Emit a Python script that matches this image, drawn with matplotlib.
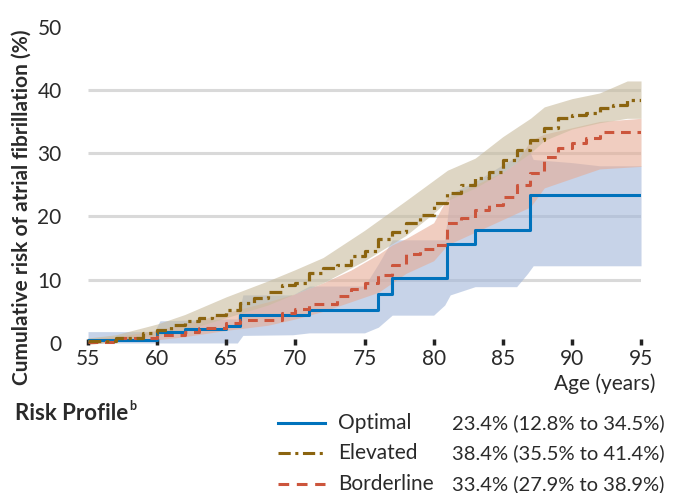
import matplotlib
matplotlib.use("Agg")
import matplotlib.pyplot as plt
from matplotlib.lines import Line2D

plt.rcParams['font.family'] = ['Lato', 'DejaVu Sans']

# step curves (value holds from this age until the next one)
optimal_age = [55, 60, 62, 65, 66, 71, 76, 77, 81, 83, 87, 95]
optimal_risk = [0.4, 1.7, 2.2, 2.7, 4.4, 5.2, 7.8, 10.3, 15.6, 17.9, 23.4, 23.4]

elevated_age = [55, 57, 59, 60, 61, 62, 63, 64, 65, 66, 67, 68, 69, 70, 71, 72, 73, 74,
                75, 76, 77, 78, 79, 80, 81, 82, 83, 84, 85, 86, 87, 88, 89, 90, 91, 92,
                93, 94, 95]
elevated_risk = [0.3, 0.8, 1.6, 2.1, 2.8, 3.4, 3.9, 4.4, 5.2, 6.3, 7.1, 8.1, 9.2, 9.5,
                 11.1, 11.8, 12.3, 13.7, 14.6, 16.4, 17.5, 18.9, 20.2, 22.1, 23.7, 25.0,
                 26.0, 27.0, 28.9, 30.5, 32.1, 33.9, 35.5, 36.0, 36.3, 37.1, 37.6, 38.4,
                 38.4]

borderline_age = [55, 57, 60, 62, 63, 65, 66, 69, 70, 71, 73, 74, 75, 76, 77, 78, 79, 80,
                  81, 82, 83, 84, 85, 86, 87, 88, 89, 90, 91, 92, 95]
borderline_risk = [0.2, 0.8, 1.3, 1.7, 2.3, 3.1, 3.7, 4.7, 5.3, 6.2, 7.4, 8.6, 9.5, 10.7,
                   12.3, 14.1, 14.9, 15.5, 18.9, 19.7, 21.0, 21.8, 23.1, 25.0, 26.8, 29.4,
                   30.8, 31.6, 32.4, 33.4, 33.4]

# confidence bands
optimal_band_age = [55, 59.8, 60.2, 62, 65, 65.8, 66.2, 69.8, 71, 75, 76, 77, 80, 80.8,
                    81.2, 83, 86, 86.8, 87.2, 90, 92, 95]
optimal_upper = [1.8, 1.8, 3.5, 3.6, 3.8, 3.8, 7.6, 7.6, 9.0, 9.0, 12.5, 16.3, 16.3, 16.3,
                 23.6, 25.5, 29.5, 31.0, 29.0, 28.5, 28.0, 28.0]
optimal_lower = [0, 0, 0, 0, 0, 0, 1.2, 1.3, 1.6, 1.6, 2.5, 4.4, 4.4, 6.0, 7.6, 8.9, 8.9,
                 11.0, 12.2, 12.2, 12.2, 12.2]

elevated_band_age = [55, 57, 60, 62, 65, 68, 70, 72, 75, 78, 80, 81, 83, 85, 87, 88, 90,
                     92, 94, 95]
elevated_upper = [0.8, 1.3, 3.0, 4.5, 7.3, 9.8, 11.6, 13.5, 17.8, 22.5, 25.7, 27.3, 29.2,
                  32.6, 35.5, 37.3, 38.6, 39.5, 41.4, 41.4]
elevated_lower = [-0.2, 0.2, 1.2, 2.0, 4.0, 6.0, 7.8, 9.5, 13.0, 17.0, 20.5, 22.5, 24.5,
                  27.0, 30.0, 32.0, 33.8, 34.8, 35.5, 35.5]

borderline_band_age = [55, 57, 60, 62, 65, 68, 70, 72, 74, 76, 77, 78, 80, 81, 83, 85, 86,
                       87, 88, 90, 92, 95]
borderline_upper = [0.6, 1.0, 2.0, 3.0, 4.8, 6.5, 7.8, 9.5, 11.5, 14.0, 15.5, 16.5, 19.0,
                    23.0, 25.0, 27.0, 28.5, 32.0, 33.0, 34.0, 35.0, 35.5]
borderline_lower = [-0.2, 0.2, 0.5, 1.0, 2.0, 2.8, 3.8, 5.0, 6.5, 8.0, 9.5, 11.0, 13.0,
                    15.5, 17.5, 19.5, 20.5, 21.5, 24.5, 26.0, 27.5, 27.9]

x_ticks = [55, 60, 65, 70, 75, 80, 85, 90, 95]
y_ticks = [0, 10, 20, 30, 40, 50]
grid_levels = [10, 20, 30, 40]

names = ["Optimal", "Elevated", "Borderline"]
summaries = ["23.4% (12.8% to 34.5%)", "38.4% (35.5% to 41.4%)", "33.4% (27.9% to 38.9%)"]

blue = "#0072bc"
brown = "#8b640f"
red = "#cc553c"
ink = "#2a2a2a"

fig = plt.figure(figsize=(6.73, 4.93), dpi=100)
ax = fig.add_axes([0.1308, 0.3004, 0.8217, 0.6458])

ax.hlines(grid_levels, 55, 95, color="#d9d9d9", lw=2.2, zorder=0)

ax.fill_between(optimal_band_age, optimal_lower, optimal_upper, color="#a3b7d9",
                alpha=0.6, lw=0, zorder=1)
ax.fill_between(borderline_band_age, borderline_lower, borderline_upper, color="#e6ac96",
                alpha=0.6, lw=0, zorder=1)
ax.fill_between(elevated_band_age, elevated_lower, elevated_upper, color="#c8bb9d",
                alpha=0.6, lw=0, zorder=1)

ax.plot(optimal_age, optimal_risk, drawstyle="steps-post", color=blue, lw=2.2, zorder=3)
ax.plot(borderline_age, borderline_risk, drawstyle="steps-post", color=red, lw=2.2,
        dashes=(3.2, 2.2), zorder=3)
ax.plot(elevated_age, elevated_risk, drawstyle="steps-post", color=brown, lw=2.3,
        dashes=(4, 1.5, 1, 1.5), zorder=4)

ax.set_xlim(55, 95)
ax.set_ylim(-0.3, 50)
ax.set_xticks(x_ticks)
ax.set_yticks(y_ticks)
for s in ax.spines.values():
    s.set_visible(False)
ax.tick_params(axis="x", direction="in", length=4, width=2.5, color="#222222",
               labelsize=15, pad=3)
ax.tick_params(axis="y", length=0, labelsize=15, pad=19)
ax.tick_params(labelcolor=ink)

fig.text(22 / 673, 1 - 207 / 493, "Cumulative risk of atrial fibrillation (%)",
         rotation=90, ha="center", va="center", fontsize=15, fontweight="bold",
         color=ink)
fig.text(656 / 673, 1 - 384 / 493, "Age (years)", ha="right", va="center", fontsize=15,
         color=ink)

# legend block
rp = fig.text(15 / 673, 1 - 413 / 493, "Risk Profile", ha="left", va="center",
              fontsize=16, fontweight="bold", color=ink)
fig.canvas.draw()
rp_box = rp.get_window_extent()
fig.text((rp_box.x1 + 1) / 673, 1 - 406 / 493, "b", ha="left", va="center", fontsize=9,
         fontweight="bold", color=ink)

styles = [dict(color=blue, lw=2.2),
          dict(color=brown, lw=2.2, dashes=(4, 1.5, 1, 1.5)),
          dict(color=red, lw=2.2, dashes=(3.5, 2.5))]
rows = [423, 453, 484]
for name, summ, st, ry in zip(names, summaries, styles, rows):
    yf = 1 - ry / 493
    fig.add_artist(Line2D([278 / 673, 325 / 673], [yf, yf], transform=fig.transFigure, **st))
    fig.text(338 / 673, yf, name, ha="left", va="center", fontsize=15, color=ink)
    fig.text(452 / 673, yf, summ, ha="left", va="center", fontsize=14.5, color=ink)

fig.savefig("out.png", dpi=100)
